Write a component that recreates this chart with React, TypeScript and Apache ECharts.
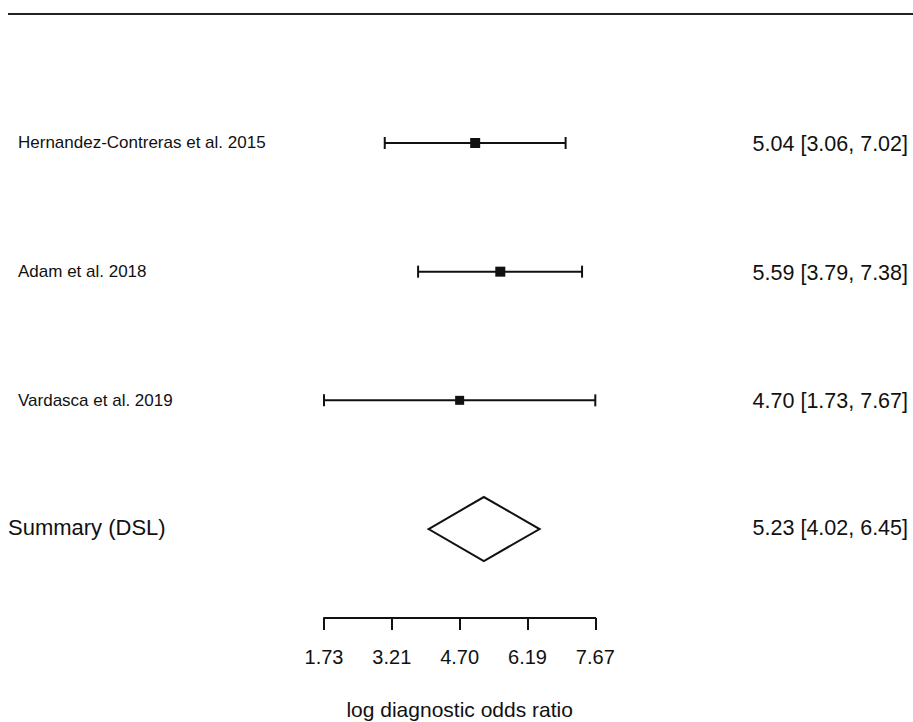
import React, { useEffect, useRef } from "react";
import * as echarts from "echarts";

const studies = [
  "Hernandez-Contreras et al. 2015",
  "Adam et al. 2018",
  "Vardasca et al. 2019",
];
const estimates = [5.04, 5.59, 4.7];
const lowers = [3.06, 3.79, 1.73];
const uppers = [7.02, 7.38, 7.67];
const markerSizes = [10, 10, 9];

const summaryLabel = "Summary (DSL)";
const summaryEst = 5.23;
const summaryLower = 4.02;
const summaryUpper = 6.45;

const tickValues = [1.73, 3.215, 4.7, 6.185, 7.67];
const tickLabels = ["1.73", "3.21", "4.70", "6.19", "7.67"];
const axisTitle = "log diagnostic odds ratio";

const rowLabels = [...studies, summaryLabel];

const FONT = '"Liberation Sans", Arial, Helvetica, sans-serif';
const INK = "#111";

const fmtCI = (e: number, l: number, u: number) =>
  `${e.toFixed(2)} [${l.toFixed(2)}, ${u.toFixed(2)}]`;

export default function App() {
  const ref = useRef<HTMLDivElement>(null);

  useEffect(() => {
    if (!ref.current) return;
    const chart = echarts.init(ref.current, null, { renderer: "svg" });

    const studyData = studies.map((_, i) => [lowers[i], uppers[i], estimates[i], i, markerSizes[i]]);
    const summaryData = [[summaryLower, summaryUpper, summaryEst, studies.length]];

    const option: any = {
      animation: false,
      backgroundColor: "#fff",
      grid: {
        left: 324,
        right: 317.7,
        top: 78.65,
        bottom: 128.65,
        containLabel: false,
        outerBoundsMode: "none",
      },
      xAxis: {
        type: "value",
        min: 1.73,
        max: 7.67,
        position: "bottom",
        offset: 24.65,
        splitLine: { show: false },
        axisLine: { show: true, lineStyle: { color: INK, width: 2 } },
        axisTick: {
          show: true,
          customValues: tickValues,
          length: 12,
          inside: false,
          lineStyle: { color: INK, width: 2 },
        },
        axisLabel: {
          customValues: tickValues,
          margin: 29,
          color: INK,
          fontSize: 20,
          fontFamily: FONT,
          formatter: (v: number) => {
            let best = 0;
            tickValues.forEach((t, i) => {
              if (Math.abs(t - v) < Math.abs(tickValues[best] - v)) best = i;
            });
            return tickLabels[best];
          },
        },
        name: axisTitle,
        nameLocation: "middle",
        nameGap: 81,
        nameTextStyle: { color: INK, fontSize: 21, fontFamily: FONT },
      },
      yAxis: {
        type: "category",
        data: rowLabels,
        inverse: true,
        show: false,
      },
      graphic: [
        {
          type: "line",
          shape: { x1: 8, y1: 14, x2: 913, y2: 14 },
          style: { stroke: "#222", lineWidth: 2 },
        },
      ],
      series: [
        {
          type: "custom",
          clip: false,
          data: studyData,
          encode: { x: [0, 1, 2], y: 3 },
          renderItem: (params: any, api: any) => {
            const row = api.value(3);
            const lo = api.coord([api.value(0), row]);
            const hi = api.coord([api.value(1), row]);
            const est = api.coord([api.value(2), row]);
            const s = api.value(4);
            const y = lo[1];
            const i = params.dataIndex;
            const line = { stroke: INK, lineWidth: 2 };
            return {
              type: "group",
              children: [
                { type: "line", shape: { x1: lo[0], y1: y, x2: hi[0], y2: y }, style: line },
                { type: "line", shape: { x1: lo[0], y1: y - 6, x2: lo[0], y2: y + 6 }, style: line },
                { type: "line", shape: { x1: hi[0], y1: y - 6, x2: hi[0], y2: y + 6 }, style: line },
                { type: "rect", shape: { x: est[0] - s / 2, y: y - s / 2, width: s, height: s }, style: { fill: INK } },
                {
                  type: "text",
                  style: {
                    text: studies[i],
                    x: 18,
                    y,
                    align: "left",
                    verticalAlign: "middle",
                    fontSize: 17,
                    fontFamily: FONT,
                    fill: INK,
                  },
                },
                {
                  type: "text",
                  style: {
                    text: fmtCI(estimates[i], lowers[i], uppers[i]),
                    x: 908,
                    y: y + 1,
                    align: "right",
                    verticalAlign: "middle",
                    fontSize: 21.5,
                    fontFamily: FONT,
                    fill: INK,
                  },
                },
              ],
            };
          },
        },
        {
          type: "custom",
          clip: false,
          data: summaryData,
          encode: { x: [0, 1, 2], y: 3 },
          renderItem: (params: any, api: any) => {
            const row = api.value(3);
            const lo = api.coord([api.value(0), row]);
            const hi = api.coord([api.value(1), row]);
            const est = api.coord([api.value(2), row]);
            const y = lo[1];
            const h = 32;
            return {
              type: "group",
              children: [
                {
                  type: "polygon",
                  shape: {
                    points: [
                      [lo[0], y],
                      [est[0], y - h],
                      [hi[0], y],
                      [est[0], y + h],
                    ],
                  },
                  style: { fill: "#fff", stroke: INK, lineWidth: 2 },
                },
                {
                  type: "text",
                  style: {
                    text: summaryLabel,
                    x: 8,
                    y: y - 2,
                    align: "left",
                    verticalAlign: "middle",
                    fontSize: 22,
                    fontFamily: FONT,
                    fill: INK,
                  },
                },
                {
                  type: "text",
                  style: {
                    text: fmtCI(summaryEst, summaryLower, summaryUpper),
                    x: 908,
                    y: y - 1,
                    align: "right",
                    verticalAlign: "middle",
                    fontSize: 21.5,
                    fontFamily: FONT,
                    fill: INK,
                  },
                },
              ],
            };
          },
        },
      ],
    };

    chart.setOption(option);
    return () => chart.dispose();
  }, []);

  return (
    <div
      ref={ref}
      style={{ position: "absolute", left: 0, top: 0, width: 913, height: 722, background: "#fff" }}
    />
  );
}
